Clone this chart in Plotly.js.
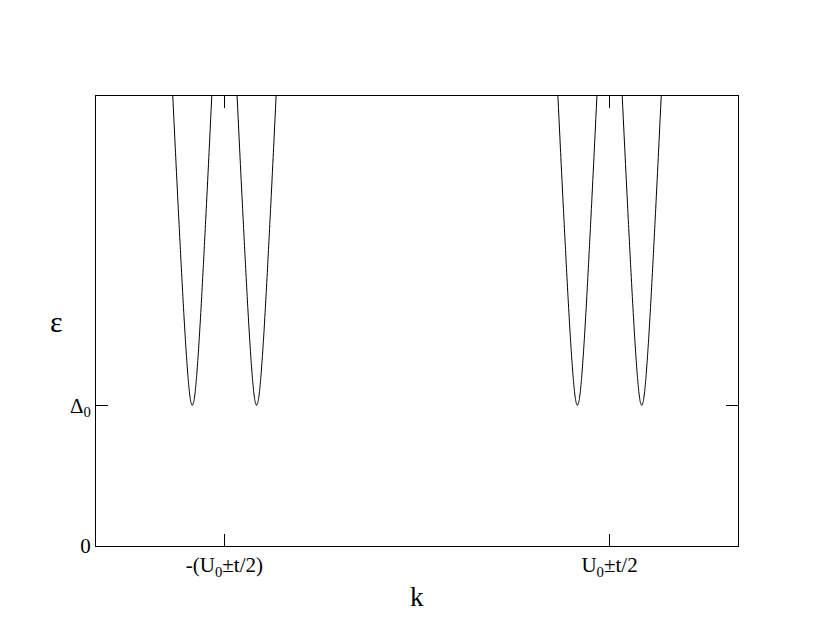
<!DOCTYPE html>
<html>
<head>
<meta charset="utf-8">
<script src="https://cdn.plot.ly/plotly-3.0.1.min.js"></script>
<style>html,body{margin:0;padding:0;background:#fff;}</style>
</head>
<body>
<div id="chart" style="width:830px;height:642px;"></div>
<script>
// Band minima positions (k, in units of U0)
const bandCenters = [-1.167, -0.833, 0.833, 1.167];
// Shape of each band: k offset from the minimum and energy (units of Δ0)
const bandDk  = [-0.1048, -0.0872, -0.0727, -0.0577, -0.0479, -0.0373, -0.0302, -0.0221, -0.0153, -0.0107, -0.0067, 0,
                  0.0067, 0.0107, 0.0153, 0.0221, 0.0302, 0.0373, 0.0479, 0.0577, 0.0727, 0.0872, 0.1048];
const bandEps = [3.3, 2.8, 2.4, 2.0, 1.75, 1.5, 1.35, 1.2, 1.1, 1.05, 1.02, 1.0,
                 1.02, 1.05, 1.1, 1.2, 1.35, 1.5, 1.75, 2.0, 2.4, 2.8, 3.3];
// Tick labels
const xTickVals = [-1, 1];
const xTickText = ['-(U<sub>0</sub>±t/2)', 'U<sub>0</sub>±t/2'];
const yTickVals = [0, 1];
const yTickText = ['0', 'Δ<sub>0</sub>'];

const traces = bandCenters.map(c => ({
  x: bandDk.map(d => c + d),
  y: bandEps,
  type: 'scatter',
  mode: 'lines',
  line: {color: '#000', width: 1, shape: 'spline', smoothing: 0.6},
  hoverinfo: 'skip',
  showlegend: false
}));

const font = {family: '"Liberation Serif", "DejaVu Serif", serif', color: '#000'};

const layout = {
  width: 830, height: 642,
  margin: {l: 96, r: 92, t: 96, b: 96},
  paper_bgcolor: '#fff', plot_bgcolor: '#fff',
  showlegend: false,
  font: Object.assign({size: 21}, font),
  xaxis: {
    range: [-1.667, 1.667],
    tickvals: xTickVals, ticktext: xTickText,
    ticks: 'inside', ticklen: 12, tickwidth: 1, tickcolor: '#000',
    showline: true, linecolor: '#000', linewidth: 1, mirror: 'allticks',
    showgrid: false, zeroline: false,
    tickfont: Object.assign({size: 21}, font)
  },
  yaxis: {
    range: [0, 3.2],
    tickvals: yTickVals, ticktext: yTickText,
    ticks: 'inside', ticklen: 12, tickwidth: 1, tickcolor: '#000',
    showline: true, linecolor: '#000', linewidth: 1, mirror: 'allticks',
    showgrid: false, zeroline: false,
    tickfont: Object.assign({size: 21}, font)
  },
  annotations: [
    {text: 'ε', xref: 'paper', yref: 'paper', x: -0.061, y: 0.50,
     xanchor: 'center', yanchor: 'middle', showarrow: false,
     font: Object.assign({size: 30}, font)},
    {text: 'k', xref: 'paper', yref: 'paper', x: 0.5, y: -0.113,
     xanchor: 'center', yanchor: 'middle', showarrow: false,
     font: Object.assign({size: 27}, font)}
  ]
};

Plotly.newPlot('chart', traces, layout, {staticPlot: true, displayModeBar: false});
</script>
</body>
</html>
